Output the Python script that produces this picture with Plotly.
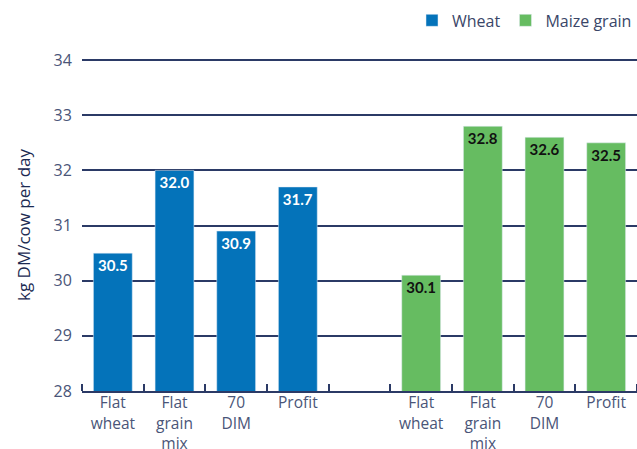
import plotly.graph_objects as go

categories = ["Flat<br>wheat", "Flat<br>grain<br>mix", "70<br>DIM", "Profit"]
wheat = [30.5, 32.0, 30.9, 31.7]
maize = [30.1, 32.8, 32.6, 32.5]
y_ticks = [28, 29, 30, 31, 32, 33, 34]

n = len(categories)
x_wheat = list(range(n))
x_maize = [i + n + 1 for i in range(n)]

BLUE = "#0473BA"
GREEN = "#66BC61"
NAVY = "#2b3a66"
TXT = "#4a5578"
FONT = "Open Sans"

fig = go.Figure()
fig.add_trace(go.Bar(
    x=x_wheat, y=wheat, name="Wheat", marker_color=BLUE,
    texttemplate="%{y:.1f}", textposition="inside", insidetextanchor="end",
    textfont=dict(color="white", size=15, family="Lato", weight=700),
    textangle=0,
))
fig.add_trace(go.Bar(
    x=x_maize, y=maize, name="Maize grain", marker_color=GREEN,
    texttemplate="%{y:.1f}", textposition="inside", insidetextanchor="end",
    textfont=dict(color="#111111", size=15, family="Lato", weight=700),
    textangle=0,
))

fig.update_layout(
    width=637, height=449,
    margin=dict(l=82, r=0, t=59, b=58, autoexpand=False),
    paper_bgcolor="white", plot_bgcolor="white",
    font=dict(family=FONT, color=TXT, size=16),
    bargap=0.37,
    showlegend=True,
    legend=dict(orientation="h", x=1.0, xanchor="right", y=1.065, yanchor="bottom",
                font=dict(size=16, color="#3a4668"), traceorder="normal"),
)
fig.update_xaxes(
    range=[-0.5, 2 * n + 0.5],
    tickvals=x_wheat + x_maize,
    ticktext=categories + categories,
    ticks="", showgrid=False, zeroline=False,
    showline=True, linecolor=NAVY, linewidth=1.5,
    tickfont=dict(size=15.5, color=TXT),
    ticklabelstandoff=-3,
    minor=dict(ticks="inside", ticklen=7, tick0=-0.5, dtick=1, tickcolor=NAVY, tickwidth=1.5, showgrid=False),
)
fig.update_yaxes(
    range=[28, 34.02], tickvals=y_ticks,
    showgrid=True, gridcolor=NAVY, gridwidth=1.5, zeroline=False,
    ticks="outside", ticklen=6, tickcolor="rgba(0,0,0,0)",
    tickfont=dict(size=16, color=TXT),
    title=dict(text="kg DM/cow per day", font=dict(size=17, color="#1b2a52", weight=500), standoff=18),
)

fig.write_html("out.html", config={"displayModeBar": False},
               post_script="document.body.style.margin='0';document.body.style.overflow='hidden';")
